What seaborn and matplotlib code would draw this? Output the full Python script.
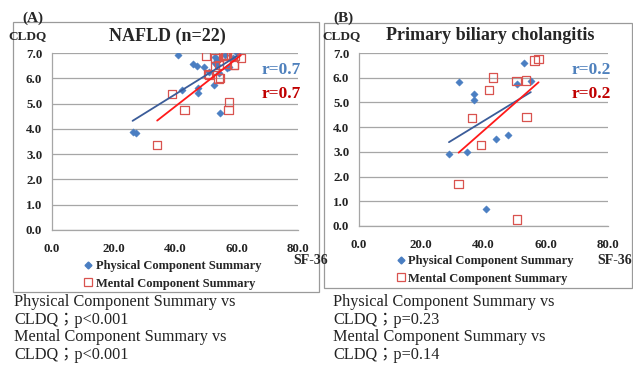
import numpy as np
import pandas as pd
import seaborn as sns
import matplotlib.pyplot as plt
from matplotlib.patches import Rectangle
from matplotlib.lines import Line2D

# ---- data ----
# (A) NAFLD
nafld_pcs_x = [26.2, 27.3, 41.0, 42.3, 45.8, 47.2, 49.4, 47.6, 47.6, 51.0, 52.7,
               53.0, 53.6, 54.3, 54.6, 57.0, 60.1, 58.7, 53.8, 57.6, 56.2, 52.9]
nafld_pcs_y = [3.89, 3.82, 6.92, 5.54, 6.56, 6.48, 6.46, 5.60, 5.40, 6.26, 5.73,
               6.85, 6.72, 6.20, 4.64, 6.39, 7.01, 6.79, 6.52, 6.46, 6.92, 6.62]
nafld_mcs_x = [39.1, 43.1, 34.2, 50.0, 53.2, 56.2, 56.8, 59.4, 61.4, 54.3, 53.0,
               54.2, 57.0, 59.2, 50.7, 54.6, 57.6, 57.4, 51.0, 55.6, 56.7, 59.1]
nafld_mcs_y = [5.38, 4.74, 3.36, 6.88, 6.79, 6.88, 6.88, 6.88, 6.79, 6.52, 6.47,
               5.99, 6.59, 6.52, 6.16, 6.02, 5.07, 4.74, 6.12, 6.93, 6.93, 6.55]

# (B) Primary biliary cholangitis
pbc_pcs_x = [28.9, 32.1, 34.8, 36.8, 36.8, 40.7, 43.9, 48.0, 50.9, 52.9, 55.2]
pbc_pcs_y = [2.93, 5.83, 2.99, 5.35, 5.11, 0.69, 3.53, 3.69, 5.76, 6.60, 5.85]
pbc_mcs_x = [32.0, 36.4, 39.3, 41.8, 43.1, 50.6, 53.6, 53.8, 50.8, 56.4, 57.7]
pbc_mcs_y = [1.71, 4.36, 3.29, 5.49, 6.01, 5.88, 5.89, 4.40, 0.26, 6.70, 6.77]

panels = [
    dict(tag='(A)', title='NAFLD (n=22)', r_pcs='r=0.7', r_mcs='r=0.7',
         px=nafld_pcs_x, py=nafld_pcs_y, mx=nafld_mcs_x, my=nafld_mcs_y,
         note='Physical Component Summary vs\nCLDQ；p<0.001\nMental Component Summary vs\nCLDQ；p<0.001'),
    dict(tag='(B)', title='Primary biliary cholangitis', r_pcs='r=0.2', r_mcs='r=0.2',
         px=pbc_pcs_x, py=pbc_pcs_y, mx=pbc_mcs_x, my=pbc_mcs_y,
         note='Physical Component Summary vs\nCLDQ；p=0.23\nMental Component Summary vs\nCLDQ；p=0.14'),
]

sns.set_style('white')
plt.rcParams['font.family'] = ['Liberation Serif', 'DejaVu Serif', 'Noto Sans CJK JP']

W, H = 633, 365
fig = plt.figure(figsize=(W / 100, H / 100), dpi=100)

def fx(px):
    return px / W

def fy(py):
    return 1 - py / H

# pixel layout: axes box, panel frame, text anchors
layout = [
    dict(ax=(52, 53, 298, 230), frame=(13, 22, 319, 292), off=0),
    dict(ax=(359, 53, 608, 226), frame=(324, 23, 632, 288), off=311),
]

blue_pt = '#4A7EC2'
red_pt = '#D9534F'
blue_line = '#3B5C99'
red_line = '#FF1A1A'
grid_c = '#A6A6A6'

for p, lay in zip(panels, layout):
    l, t, r, b = lay['ax']
    o = lay['off']
    ax = fig.add_axes([fx(l), fy(b), fx(r - l), (b - t) / H])

    fl, ft, fr, fb = lay['frame']
    fig.add_artist(Rectangle((fx(fl), fy(fb)), fx(fr - fl), (fb - ft) / H,
                             transform=fig.transFigure, fill=False,
                             edgecolor='#9A9A9A', lw=0.9))

    dpcs = pd.DataFrame({'x': p['px'], 'y': p['py']})
    dmcs = pd.DataFrame({'x': p['mx'], 'y': p['my']})

    sns.scatterplot(data=dpcs, x='x', y='y', marker='D', s=14, color=blue_pt,
                    edgecolor=blue_pt, linewidth=0.3, ax=ax, zorder=3)
    sns.scatterplot(data=dmcs, x='x', y='y', marker='s', s=36, facecolor='none',
                    edgecolor=red_pt, linewidth=0.9, ax=ax, zorder=3)
    sns.regplot(data=dpcs, x='x', y='y', scatter=False, ci=None, ax=ax,
                line_kws=dict(color=blue_line, lw=1.3, zorder=4))
    sns.regplot(data=dmcs, x='x', y='y', scatter=False, ci=None, ax=ax,
                line_kws=dict(color=red_line, lw=1.3, zorder=4))

    ax.set_xlim(0, 80)
    ax.set_ylim(0, 7)
    ax.set_xticks(np.arange(0, 81, 20))
    ax.set_yticks(np.arange(0, 7.1, 1))
    ax.set_xticklabels([f'{v:.1f}' for v in np.arange(0, 81, 20)])
    ax.set_yticklabels([f'{v:.1f}' for v in np.arange(0, 7.1, 1)])
    ax.set_xlabel('')
    ax.set_ylabel('')
    ax.grid(axis='y', color=grid_c, lw=0.9)
    ax.grid(axis='x', visible=False)
    ax.set_axisbelow(True)
    for s in ['top', 'right']:
        ax.spines[s].set_visible(False)
    for s in ['left', 'bottom']:
        ax.spines[s].set_color(grid_c)
        ax.spines[s].set_linewidth(0.9)
    ax.tick_params(axis='both', which='both', length=4, width=0.8, color=grid_c,
                   labelsize=9.3, pad=3, direction='out')
    ax.tick_params(axis='x', pad=5)
    for lab in ax.get_xticklabels() + ax.get_yticklabels():
        lab.set_fontweight('bold')
        lab.set_color('#222222')

    # texts around the axes
    fig.text(fx(o + 22), fy(18), p['tag'], fontsize=11, fontweight='bold',
             va='center', ha='left')
    fig.text(fx(o + 8 if o == 0 else o + 11), fy(36), 'CLDQ', fontsize=9.5,
             fontweight='bold', va='center', ha='left')
    fig.text(fx(167 if o == 0 else 490), fy(36), p['title'],
             fontsize=13, fontweight='bold', va='center', ha='center')
    fig.text(fx(r + 3), fy(70), p['r_pcs'], fontsize=12.5, fontweight='bold',
             color='#4F81BD', va='center', ha='right')
    fig.text(fx(r + 3), fy(94), p['r_mcs'], fontsize=12.5, fontweight='bold',
             color='#C00000', va='center', ha='right')
    fig.text(fx(328 if o == 0 else 632), fy(261), 'SF-36', fontsize=10,
             fontweight='bold', va='center', ha='right')

    handles = [Line2D([], [], marker='D', ls='none', color=blue_pt, ms=3.5),
               Line2D([], [], marker='s', ls='none', mfc='none', mec=red_pt,
                      ms=5.5, mew=0.9)]
    leg_y = 275 if o == 0 else 270
    fig.legend(handles, ['Physical Component Summary', 'Mental Component Summary'],
               loc='center left', bbox_to_anchor=(fx(78 if o == 0 else 391), fy(leg_y)),
               frameon=False, handlelength=0.6, handletextpad=0.3,
               labelspacing=0.45, borderpad=0, prop=dict(weight='bold', size=9))

    fig.text(fx(14 if o == 0 else 333), fy(294), p['note'], fontsize=11.7,
             va='top', ha='left', linespacing=1.14, color='#222222')

fig.savefig('out.png', dpi=100)
